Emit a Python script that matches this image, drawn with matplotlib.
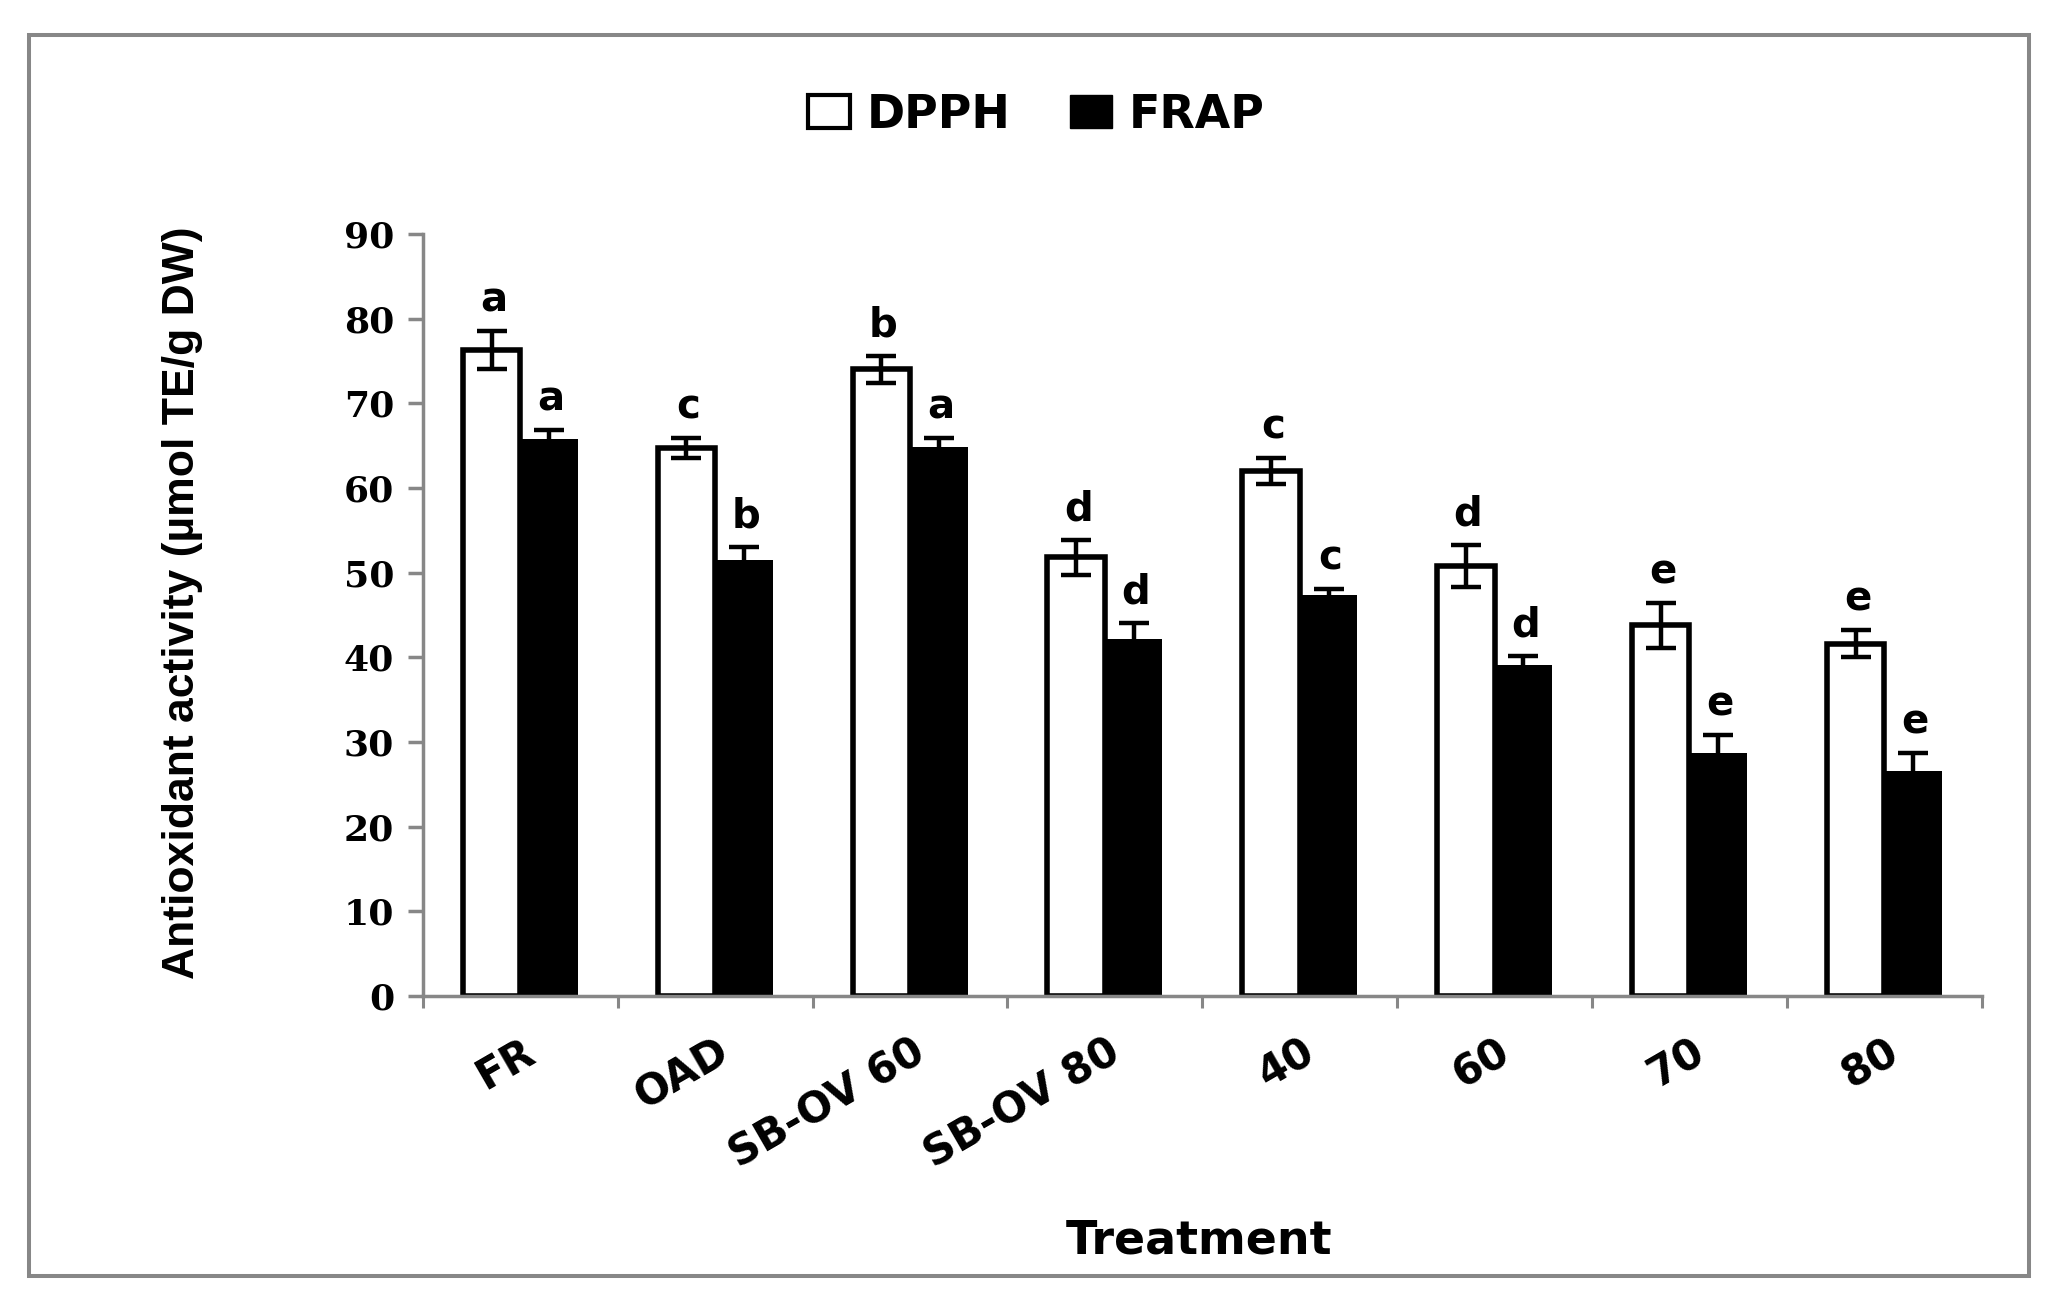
import numpy as np
import matplotlib
matplotlib.use("Agg")
from matplotlib import pyplot as plt
from matplotlib.patches import Patch, Rectangle
from matplotlib.transforms import ScaledTranslation

treatments = ["FR", "OAD", "SB-OV 60", "SB-OV 80", "40", "60", "70", "80"]
dpph = [76.3, 64.7, 74.0, 51.8, 62.0, 50.8, 43.8, 41.6]
dpph_err = [2.25, 1.15, 1.55, 2.05, 1.55, 2.45, 2.65, 1.6]
frap = [65.8, 51.5, 64.85, 42.1, 47.4, 39.1, 28.7, 26.6]
frap_err = [1.0, 1.5, 1.1, 2.0, 0.7, 1.1, 2.1, 2.05]
dpph_letters = ["a", "c", "b", "d", "c", "d", "e", "e"]
frap_letters = ["a", "b", "a", "d", "c", "d", "e", "e"]

grey = "#878787"

fig = plt.figure(figsize=(20.62, 13.07), dpi=100)
ax = fig.add_axes([0.2051, 0.238, 0.756, 0.583])

x = np.arange(len(treatments))
width = 0.295
ax.bar(x - width / 2, dpph, width, color="white", edgecolor="black", linewidth=4, zorder=2)
ax.bar(x + width / 2, frap, width, color="black", edgecolor="black", linewidth=0, zorder=2)
for xs, ys, es in [(x - width / 2, dpph, dpph_err), (x + width / 2, frap, frap_err)]:
    ax.errorbar(xs, ys, yerr=es, fmt="none", ecolor="black", elinewidth=3.2,
                capsize=11, capthick=3.2, zorder=3)

# significance letters
for xs, ys, es, letters in [(x - width / 2, dpph, dpph_err, dpph_letters),
                            (x + width / 2, frap, frap_err, frap_letters)]:
    for xi, yi, ei, lt in zip(xs, ys, es, letters):
        ax.text(xi + 0.01, yi + ei + 2.3, lt, ha="center", va="baseline",
                fontsize=29, fontweight="bold", family="DejaVu Sans")

ax.set_xlim(-0.5, 7.5)
ax.set_ylim(0, 90)
ax.set_yticks(np.arange(0, 91, 10))
ax.set_yticklabels([str(v) for v in range(0, 91, 10)], fontsize=26,
                   fontweight="bold", family="DejaVu Serif")
ax.tick_params(axis="y", direction="out", length=10.8, width=2.5, color=grey, pad=10)

ax.set_xticks(x)
ax.set_xticklabels(treatments, rotation=30, ha="right", va="top",
                   rotation_mode="anchor", fontsize=30, fontweight="bold", family="DejaVu Sans")
ax.set_xticks(np.arange(-0.5, 8, 1), minor=True)
ax.tick_params(axis="x", which="major", length=0, pad=25)
ax.tick_params(axis="x", which="minor", direction="out", length=8.6, width=2.2, color=grey)
shift = ScaledTranslation(1 / 100, 0, fig.dpi_scale_trans)
for lbl in ax.get_xticklabels():
    lbl.set_transform(lbl.get_transform() + shift)

for side in ["top", "right"]:
    ax.spines[side].set_visible(False)
for side in ["left", "bottom"]:
    ax.spines[side].set_color(grey)
    ax.spines[side].set_linewidth(2.5)

ax.set_ylabel("Antioxidant activity (µmol TE/g DW)", fontsize=32, family="Liberation Sans",
              fontweight="bold", va="center")
ax.yaxis.set_label_coords(-0.154, 0.516)
ax.set_xlabel("Treatment", fontsize=33, fontweight="bold", family="DejaVu Sans")
ax.xaxis.set_label_coords(0.498, -0.3215)
ax.xaxis.label.set_va("center")

handles = [Patch(facecolor="white", edgecolor="black", linewidth=3, label="DPPH"),
           Patch(facecolor="black", edgecolor="black", label="FRAP")]
fig.legend(handles=handles, loc="center", bbox_to_anchor=(0.5025, 0.912), ncol=2,
           frameon=False, prop={"family": "DejaVu Sans", "weight": "bold", "size": 33},
           handlelength=0.92, handleheight=0.72, handletextpad=0.35, columnspacing=1.31)

fig.patches.append(Rectangle((0.01406, 0.0237), 0.97, 0.9495, transform=fig.transFigure,
                             fill=False, edgecolor=grey, linewidth=2.9))

fig.savefig("out.png", dpi=100)
